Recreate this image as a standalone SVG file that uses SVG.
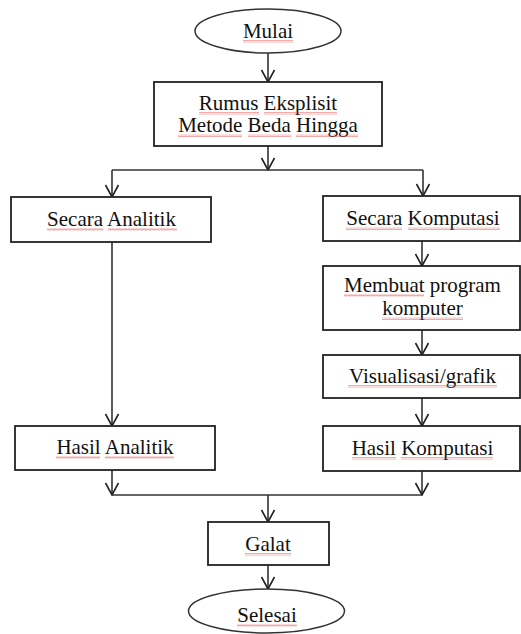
<svg xmlns="http://www.w3.org/2000/svg" width="521" height="634" viewBox="0 0 521 634">
<style>
  .box { fill: #fff; stroke: #222; stroke-width: 1.8; }
  .term { fill: #fff; stroke: #333; stroke-width: 1.5; }
  .lbl { font-family: "Liberation Serif", "Times New Roman", serif; font-size: 21px; fill: #111; text-anchor: middle; }
  .ln { fill: none; stroke: #333; stroke-width: 1.6; }
  .sq { fill: url(#squig); }
</style>
<defs>
  <marker id="arr" viewBox="0 0 14 16" markerWidth="14" markerHeight="16" refX="13" refY="8" orient="auto" markerUnits="userSpaceOnUse">
    <path d="M1,1.5 L13,8 L1,14.5" fill="none" stroke="#222" stroke-width="1.6"/>
  </marker>
  <pattern id="squig" patternUnits="userSpaceOnUse" width="4" height="3">
    <polyline points="0,2.5 1,0.5 2,2.5 3,0.5 4,2.5" fill="none" stroke="#e84040" stroke-width="0.6" stroke-opacity="0.75"/>
  </pattern>
</defs>
<rect width="521" height="634" fill="#fff"/>

<g id="connectors">
  <line class="ln" x1="268" y1="53" x2="268" y2="82" marker-end="url(#arr)"/>
  <line class="ln" x1="268" y1="146" x2="268" y2="170" marker-end="url(#arr)"/>
  <line class="ln" x1="112" y1="170" x2="423" y2="170"/>
  <line class="ln" x1="112" y1="170" x2="112" y2="197" marker-end="url(#arr)"/>
  <line class="ln" x1="423" y1="170" x2="423" y2="196" marker-end="url(#arr)"/>
  <line class="ln" x1="112" y1="242" x2="112" y2="426" marker-end="url(#arr)"/>
  <line class="ln" x1="422" y1="241" x2="422" y2="266" marker-end="url(#arr)"/>
  <line class="ln" x1="422" y1="330" x2="422" y2="355" marker-end="url(#arr)"/>
  <line class="ln" x1="422" y1="398" x2="422" y2="426" marker-end="url(#arr)"/>
  <line class="ln" x1="112" y1="470" x2="112" y2="495" marker-end="url(#arr)"/>
  <line class="ln" x1="422" y1="471" x2="422" y2="495" marker-end="url(#arr)"/>
  <line class="ln" x1="112" y1="495" x2="422" y2="495"/>
  <line class="ln" x1="268" y1="495" x2="268" y2="522" marker-end="url(#arr)"/>
  <line class="ln" x1="268" y1="565" x2="268" y2="589" marker-end="url(#arr)"/>
</g>

<g id="mulai">
  <ellipse class="term" cx="268" cy="31" rx="73" ry="22"/>
  <text class="lbl" x="268" y="38">Mulai</text>
  <rect class="sq" x="243" y="40" width="50" height="3"/>
</g>

<g id="rumus">
  <rect class="box" x="154" y="82" width="228" height="64"/>
  <text class="lbl" x="268" y="110">Rumus Eksplisit</text>
  <text class="lbl" x="268" y="132">Metode Beda Hingga</text>
  <rect class="sq" x="199" y="112" width="60" height="3"/>
  <rect class="sq" x="264" y="112" width="73" height="3"/>
  <rect class="sq" x="178" y="134" width="64" height="3"/>
  <rect class="sq" x="248" y="134" width="43" height="3"/>
  <rect class="sq" x="296" y="134" width="62" height="3"/>
</g>

<g id="secara-analitik">
  <rect class="box" x="11" y="197" width="200" height="45"/>
  <text class="lbl" x="111.5" y="226">Secara Analitik</text>
  <rect class="sq" x="47" y="228" width="56" height="3"/>
  <rect class="sq" x="108" y="228" width="69" height="3"/>
</g>

<g id="secara-komputasi">
  <rect class="box" x="323" y="196" width="197" height="45"/>
  <text class="lbl" x="423" y="225">Secara Komputasi</text>
  <rect class="sq" x="346" y="227" width="56" height="3"/>
  <rect class="sq" x="408" y="227" width="92" height="3"/>
</g>

<g id="membuat-program">
  <rect class="box" x="323" y="266" width="197" height="64"/>
  <text class="lbl" x="422.5" y="292">Membuat program</text>
  <text class="lbl" x="422.5" y="315">komputer</text>
  <rect class="sq" x="344" y="294" width="80" height="3"/>
  <rect class="sq" x="382" y="317" width="81" height="3"/>
</g>

<g id="visualisasi">
  <rect class="box" x="323" y="355" width="197" height="43"/>
  <text class="lbl" x="422.5" y="383">Visualisasi/grafik</text>
  <rect class="sq" x="348" y="385" width="149" height="3"/>
</g>

<g id="hasil-analitik">
  <rect class="box" x="15" y="426" width="200" height="44"/>
  <text class="lbl" x="115" y="454">Hasil Analitik</text>
  <rect class="sq" x="56" y="456" width="44" height="3"/>
  <rect class="sq" x="105" y="456" width="69" height="3"/>
</g>

<g id="hasil-komputasi">
  <rect class="box" x="323" y="426" width="197" height="45"/>
  <text class="lbl" x="422.5" y="455">Hasil Komputasi</text>
  <rect class="sq" x="352" y="457" width="44" height="3"/>
  <rect class="sq" x="401" y="457" width="92" height="3"/>
</g>

<g id="galat">
  <rect class="box" x="208" y="522" width="121" height="43"/>
  <text class="lbl" x="268" y="551">Galat</text>
  <rect class="sq" x="245" y="553" width="46" height="3"/>
</g>

<g id="selesai">
  <ellipse class="term" cx="266.5" cy="611" rx="78" ry="22"/>
  <text class="lbl" x="267" y="622">Selesai</text>
  <rect class="sq" x="237" y="624" width="60" height="3"/>
</g>
</svg>
